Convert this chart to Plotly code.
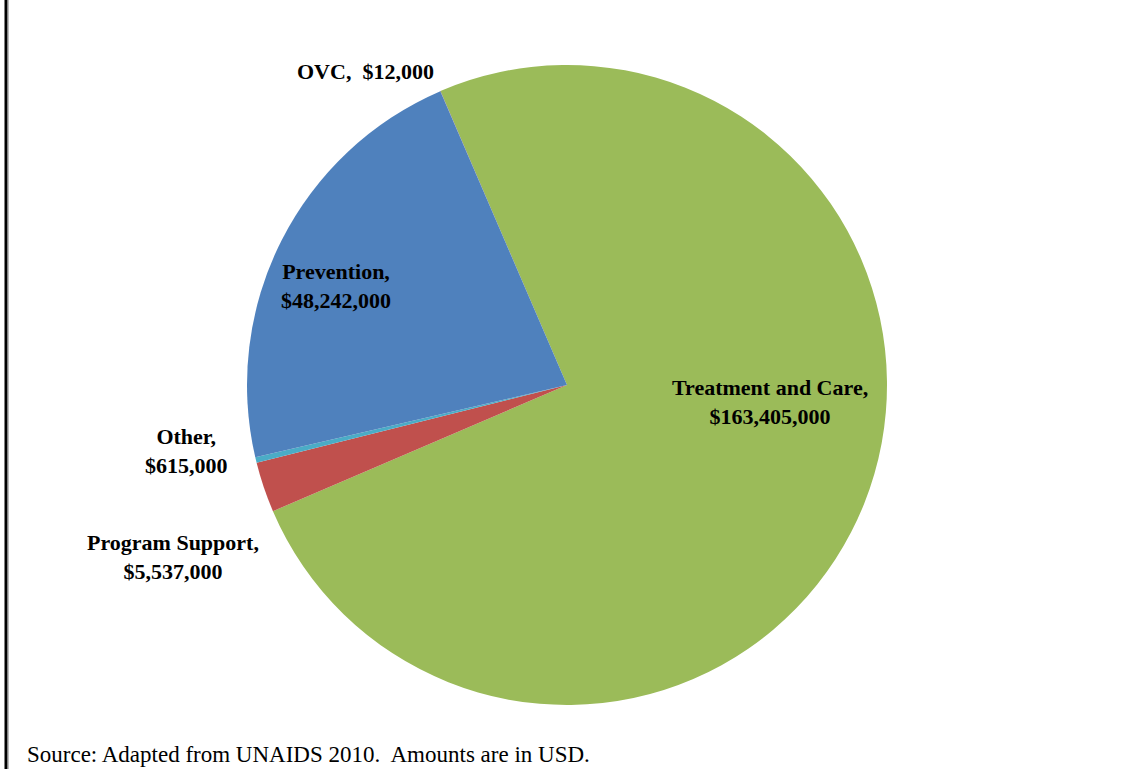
import plotly.graph_objects as go

W, H = 1122, 769

categories = ["Treatment and Care", "Program Support", "Other", "Prevention", "OVC"]
amounts = [163405000, 5537000, 615000, 48242000, 12000]
colors = ["#9BBB59", "#C0504D", "#4BACC6", "#4F81BD", "#8064A2"]

# label centres in screen pixels (layout only)
label_pos = {
    "Treatment and Care": (770, 402),
    "Program Support": (173, 557),
    "Other": (186, 451),
    "Prevention": (336, 286),
    "OVC": (365, 72),
}
single_line = {"OVC"}

cx, cy, r = 567, 385, 320


def px(x):
    return x / W


def py(y):
    return 1 - y / H


fig = go.Figure(go.Pie(
    labels=categories,
    values=amounts,
    marker=dict(colors=colors, line=dict(width=0)),
    sort=False,
    direction="clockwise",
    rotation=-23.3,
    textinfo="none",
    hoverinfo="label+value",
    showlegend=False,
    domain=dict(x=[(cx - r) / W, (cx + r) / W], y=[1 - (cy + r) / H, 1 - (cy - r) / H]),
))

annotations = []
for cat, amt in zip(categories, amounts):
    x, y = label_pos[cat]
    sep = ",  " if cat in single_line else ",<br>"
    annotations.append(dict(
        text=f"<b>{cat}{sep}${amt:,}</b>",
        x=px(x), y=py(y), xref="paper", yref="paper",
        xanchor="center", yanchor="middle", showarrow=False, align="center",
        font=dict(family="Liberation Serif", size=22, color="black"),
    ))

annotations.append(dict(
    text="Source: Adapted from UNAIDS 2010.  Amounts are in USD.",
    x=px(25), y=py(754), xref="paper", yref="paper",
    xanchor="left", yanchor="middle", showarrow=False,
    font=dict(family="Liberation Serif", size=23, color="black"),
))

shapes = [
    dict(type="line", xref="paper", yref="paper", x0=px(6), x1=px(6), y0=0, y1=1,
         line=dict(color="black", width=3)),
    dict(type="line", xref="paper", yref="paper", x0=px(8.5), x1=px(8.5), y0=0, y1=1,
         line=dict(color="#BBBBBB", width=1)),
]

fig.update_layout(
    width=W, height=H,
    margin=dict(l=0, r=0, t=0, b=0),
    paper_bgcolor="white", plot_bgcolor="white",
    annotations=annotations, shapes=shapes,
)

fig.write_html(
    "out.html",
    config={"displayModeBar": False},
    post_script="document.body.style.margin='0';document.body.style.overflow='hidden';",
)
